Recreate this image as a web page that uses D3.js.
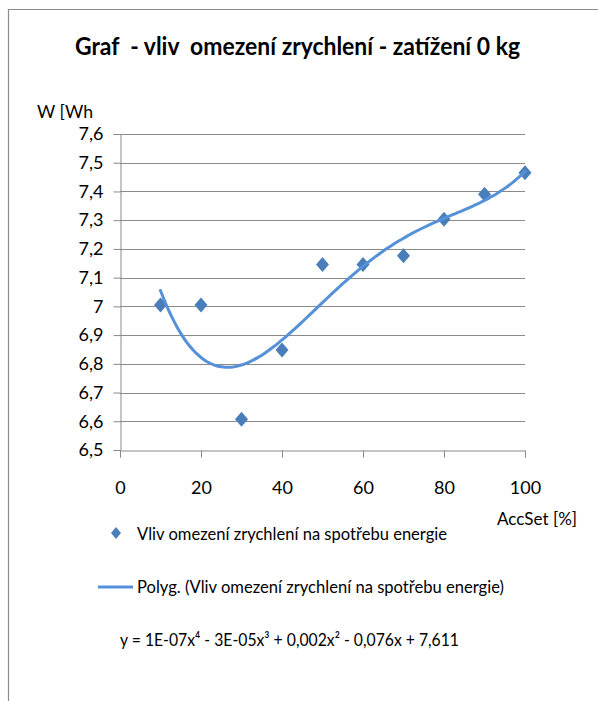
<!DOCTYPE html>
<html>
<head>
<meta charset="utf-8">
<script src="https://cdn.jsdelivr.net/npm/d3@7"></script>
<style>
  html, body { margin: 0; padding: 0; background: #fff; }
  svg { display: block; }
  text { font-family: Lato, "Open Sans", sans-serif; fill: #000; white-space: pre; }
</style>
</head>
<body>
<svg id="chart" width="598" height="701"></svg>
<script>
// Acceleration limit setting [%] and measured energy consumption [Wh]
const accSet = [10, 20, 30, 40, 50, 60, 70, 80, 90, 100];
const energy = [7.005, 7.005, 6.607, 6.848, 7.146, 7.146, 7.176, 7.303, 7.39, 7.465];
const xTicks = [0, 20, 40, 60, 80, 100];
const yTicks = [6.5, 6.6, 6.7, 6.8, 6.9, 7.0, 7.1, 7.2, 7.3, 7.4, 7.5, 7.6];
const titleText = "Graf  - vliv  omezení zrychlení - zatížení 0 kg";
const seriesName = "Vliv omezení zrychlení na spotřebu energie";
const trendName = "Polyg. (Vliv omezení zrychlení na spotřebu energie)";
const equationText = "y = 1E-07x⁴ - 3E-05x³ + 0,002x² - 0,076x + 7,611";

const svg = d3.select("#chart");
const fmt = v => d3.format(".1f")(v).replace(".", ",").replace(/,0$/, "");

// wide diamond marker
const wideDiamond = (hw, hh) => ({
  draw(ctx) { ctx.moveTo(0, -hh); ctx.lineTo(hw, 0); ctx.lineTo(0, hh); ctx.lineTo(-hw, 0); ctx.closePath(); }
});

// outer frame
svg.append("path").attr("d", "M8.5,701 V9.5 H598").attr("fill", "none").attr("stroke", "#8c8c8c").attr("stroke-width", 1.2);

const x = d3.scaleLinear().domain([0, 100]).range([120, 525]);
const y = d3.scaleLinear().domain([6.5, 7.6]).range([450, 134]);

// title
svg.append("text").attr("x", 75).attr("y", 55)
  .attr("font-size", 25).attr("font-weight", "bold")
  .attr("textLength", 445).attr("lengthAdjust", "spacingAndGlyphs").text(titleText);

// gridlines
svg.append("g").selectAll("line").data(yTicks.slice(1)).join("line")
  .attr("x1", 120).attr("x2", 525)
  .attr("y1", d => Math.round(y(d)) + 0.5).attr("y2", d => Math.round(y(d)) + 0.5)
  .attr("stroke", "#8a8a8a").attr("stroke-width", 1);

// axes
const yAxis = svg.append("g").attr("transform", "translate(120.5,0)")
  .call(d3.axisLeft(y).tickValues(yTicks).tickFormat(fmt).tickSize(7).tickPadding(10));
const xAxis = svg.append("g").attr("transform", "translate(0,450.5)")
  .call(d3.axisBottom(x).tickValues(xTicks).tickSize(7).tickPadding(24));
[yAxis, xAxis].forEach(a => {
  a.select(".domain").attr("stroke", "#8a8a8a");
  a.selectAll(".tick line").attr("stroke", "#8a8a8a");
  a.selectAll(".tick text").attr("font-size", 18).attr("fill", "#000")
    .style("font-family", 'Lato, "Open Sans", sans-serif');
});

// axis titles
svg.append("text").attr("x", 37).attr("y", 118).attr("font-size", 18)
  .attr("textLength", 56).attr("lengthAdjust", "spacingAndGlyphs").text("W [Wh");
svg.append("text").attr("x", 497).attr("y", 525).attr("font-size", 18)
  .attr("textLength", 80).attr("lengthAdjust", "spacingAndGlyphs").text("AccSet [%]");

// 4th order least-squares polynomial trendline
function polyfit(xs, ys, deg) {
  const s = 100; // scale x for conditioning
  const n = deg + 1;
  const A = Array.from({length: n}, () => new Array(n + 1).fill(0));
  xs.forEach((xv, k) => {
    const t = xv / s;
    for (let i = 0; i < n; i++) {
      for (let j = 0; j < n; j++) A[i][j] += Math.pow(t, i + j);
      A[i][n] += ys[k] * Math.pow(t, i);
    }
  });
  for (let i = 0; i < n; i++) {
    let p = i;
    for (let r = i + 1; r < n; r++) if (Math.abs(A[r][i]) > Math.abs(A[p][i])) p = r;
    [A[i], A[p]] = [A[p], A[i]];
    for (let r = 0; r < n; r++) {
      if (r === i) continue;
      const f = A[r][i] / A[i][i];
      for (let c = i; c <= n; c++) A[r][c] -= f * A[i][c];
    }
  }
  const coef = A.map((row, i) => row[n] / row[i]);
  return xv => coef.reduce((acc, c, i) => acc + c * Math.pow(xv / s, i), 0);
}
const trend = polyfit(accSet, energy, 4);
const trendPts = d3.range(0, 91).map(i => {
  const xv = d3.min(accSet) + i * (d3.max(accSet) - d3.min(accSet)) / 90;
  return [xv, trend(xv)];
});

// markers
svg.append("g").selectAll("path").data(accSet).join("path")
  .attr("transform", (d, i) => `translate(${x(d)},${y(energy[i])})`)
  .attr("d", d3.symbol().type(wideDiamond(6.5, 7.5))).attr("fill", "#4a7ebb");

svg.append("path").datum(trendPts)
  .attr("d", d3.line().x(d => x(d[0])).y(d => y(d[1])).curve(d3.curveMonotoneX))
  .attr("fill", "none").attr("stroke", "#5591d8").attr("stroke-width", 3).attr("stroke-linecap", "round");

// legend
svg.append("path").attr("transform", "translate(116,533)")
  .attr("d", d3.symbol().type(wideDiamond(5, 6))).attr("fill", "#4a7ebb");
svg.append("text").attr("x", 137).attr("y", 540).attr("font-size", 18)
  .attr("textLength", 310).attr("lengthAdjust", "spacingAndGlyphs").text(seriesName);
svg.append("line").attr("x1", 98).attr("x2", 133).attr("y1", 587).attr("y2", 587)
  .attr("stroke", "#5591d8").attr("stroke-width", 3);
svg.append("text").attr("x", 137).attr("y", 593).attr("font-size", 18)
  .attr("textLength", 367).attr("lengthAdjust", "spacingAndGlyphs").text(trendName);

// trendline equation
svg.append("text").attr("x", 120).attr("y", 646).attr("font-size", 18)
  .attr("textLength", 339).attr("lengthAdjust", "spacingAndGlyphs").text(equationText);
</script>
</body>
</html>
